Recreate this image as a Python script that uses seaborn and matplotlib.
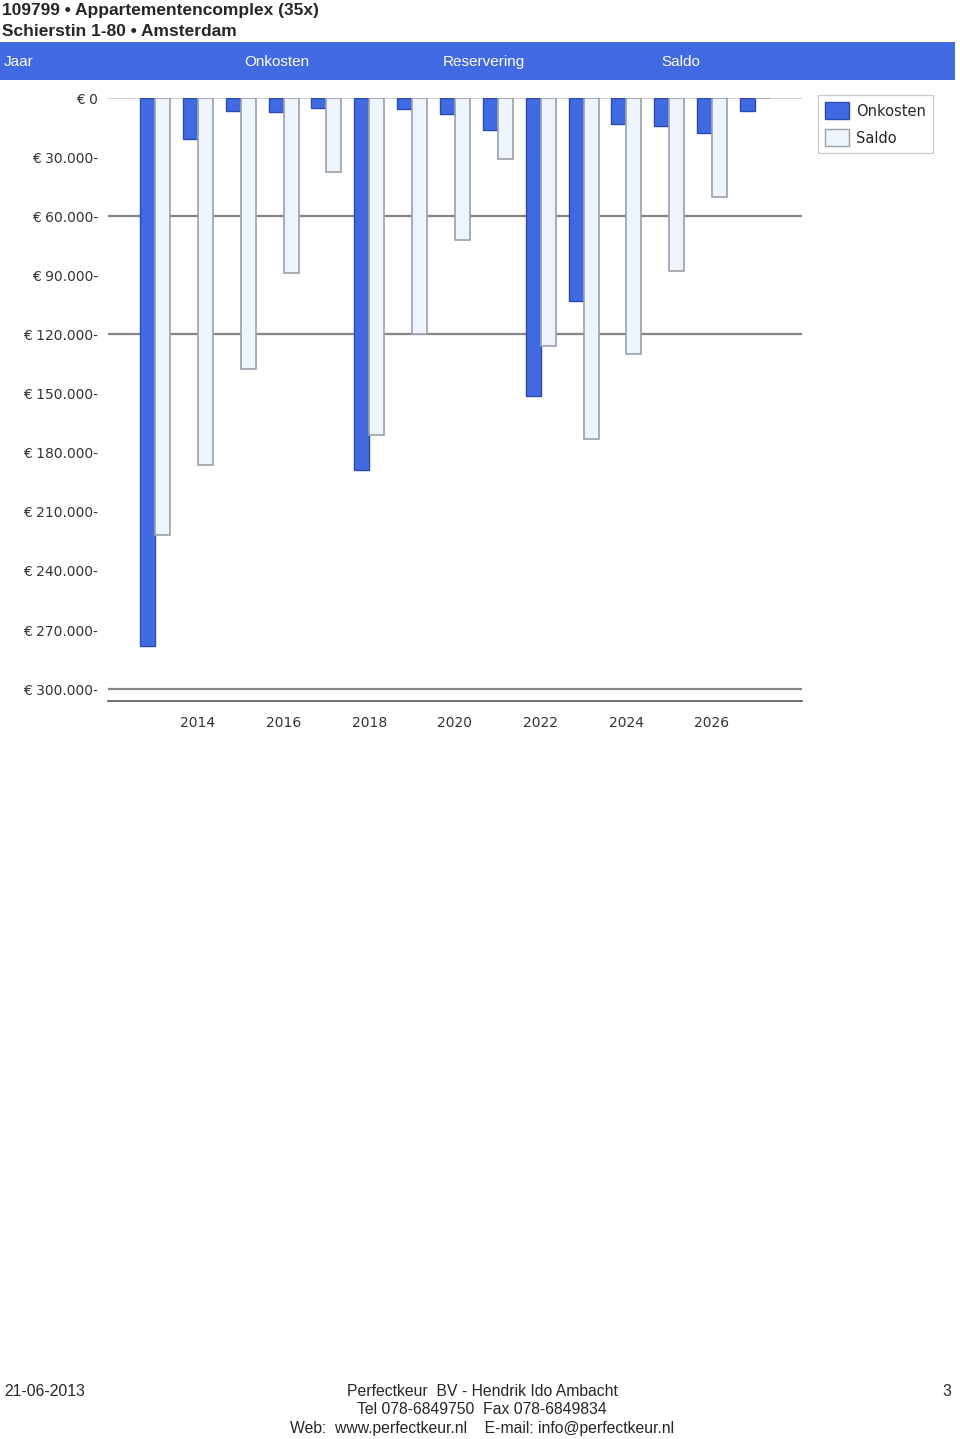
import pandas as pd
import seaborn as sns
import matplotlib.pyplot as plt
from matplotlib.patches import Patch

# data (euro, shown downwards)
years = [2013, 2014, 2015, 2016, 2017, 2018, 2019, 2020, 2021, 2022, 2023, 2024, 2025, 2026, 2027]
onkosten = [278000, 21000, 6500, 7000, 5000, 189000, 5500, 8000, 16000, 151000, 103000, 13000, 14000, 18000, 6500]
saldo = [222000, 186000, 137500, 89000, 37500, 171000, 120000, 72000, 31000, 126000, 173000, 130000, 88000, 50000, 0]
y_ticks = [0, 30000, 60000, 90000, 120000, 150000, 180000, 210000, 240000, 270000, 300000]
y_labels = ['€ 0', '€ 30.000-', '€ 60.000-', '€ 90.000-', '€ 120.000-', '€ 150.000-',
            '€ 180.000-', '€ 210.000-', '€ 240.000-', '€ 270.000-', '€ 300.000-']
x_labels = [2014, 2016, 2018, 2020, 2022, 2024, 2026]
grid_values = [60000, 120000, 300000]
header_cols = ['Jaar', 'Onkosten', 'Reservering', 'Saldo']

blue = '#4169E1'
light = '#EEF4FC'

df = pd.DataFrame({'Jaar': years * 2,
                   'Bedrag': onkosten + saldo,
                   'Serie': ['Onkosten'] * len(years) + ['Saldo'] * len(years)})

sns.set_style('white')
plt.rcParams['font.family'] = ['DejaVu Sans']

fig = plt.figure(figsize=(9.6, 14.39), dpi=100)
ax = fig.add_axes([108 / 960, 1 - 701 / 1439, 694 / 960, 603 / 1439])

sns.barplot(data=df, x='Jaar', y='Bedrag', hue='Serie', order=years,
            palette={'Onkosten': blue, 'Saldo': light}, width=0.7, saturation=1,
            legend=False, ax=ax, zorder=3)

# bar outlines
for bar in ax.containers[0]:
    bar.set_edgecolor('#2B4BAE')
    bar.set_linewidth(1.0)
for bar in ax.containers[1]:
    bar.set_edgecolor('#9BA1A8')
    bar.set_linewidth(1.2)

ax.set_ylim(306000, 0)
ax.set_xlim(-1.1, len(years) - 1 + 1.1)

# gridlines
ax.axhline(0, color='#c8c8c8', lw=1.2, zorder=1)
for g in grid_values:
    ax.axhline(g, color='#858585', lw=1.6, zorder=1)

ax.set_yticks(y_ticks)
ax.set_yticklabels(y_labels, fontsize=10, color='#333333')
ax.set_xticks([years.index(y) for y in x_labels])
ax.set_xticklabels([str(y) for y in x_labels], fontsize=10, color='#333333')
ax.tick_params(axis='y', length=0, pad=7)
ax.tick_params(axis='x', length=3, color='#bbbbbb', pad=8)
ax.set_xlabel('')
ax.set_ylabel('')
for side in ['top', 'left', 'right']:
    ax.spines[side].set_visible(False)
ax.spines['bottom'].set_color('#555555')
ax.spines['bottom'].set_linewidth(1.2)

# legend
handles = [Patch(facecolor=blue, edgecolor='#2B4BAE', label='Onkosten'),
           Patch(facecolor=light, edgecolor='#9BA1A8', label='Saldo')]
leg = fig.legend(handles=handles, loc='upper left', bbox_to_anchor=(818 / 960, 1 - 95 / 1439),
                 frameon=True, fancybox=False, prop={'size': 10.5}, handlelength=1.6,
                 handleheight=1.4, handletextpad=0.5, borderpad=0.5, labelspacing=0.7,
                 borderaxespad=0)
leg.get_frame().set_edgecolor('#c0c0c0')
leg.get_frame().set_linewidth(1.0)

# header
fig.text(2 / 960, 1 - 10 / 1439, '109799 • Appartementencomplex (35x)', fontsize=12.5,
         fontweight='bold', family='Liberation Sans', va='center', ha='left')
fig.text(2 / 960, 1 - 31 / 1439, 'Schierstin 1-80 • Amsterdam', fontsize=12.5,
         fontweight='bold', family='Liberation Sans', va='center', ha='left')
fig.patches.append(plt.Rectangle((0, 1 - 80 / 1439), 955 / 960, 38 / 1439,
                                 transform=fig.transFigure, facecolor=blue,
                                 edgecolor='none', zorder=0))
for label, xpix in zip(header_cols, [4, 244, 443, 661]):
    fig.text(xpix / 960, 1 - 62 / 1439, label, fontsize=11, color='white',
             family='Liberation Sans', va='center', ha='left')

# footer
fig.text(4 / 960, 1 - 1391 / 1439, '21-06-2013', fontsize=11.3, family='Liberation Sans',
         va='center', ha='left')
fig.text(951 / 960, 1 - 1391 / 1439, '3', fontsize=11.3, family='Liberation Sans',
         va='center', ha='right')
footer_lines = ['Perfectkeur  BV - Hendrik Ido Ambacht',
                'Tel 078-6849750  Fax 078-6849834',
                'Web:  www.perfectkeur.nl    E-mail: info@perfectkeur.nl']
for line, ypix in zip(footer_lines, [1391, 1410, 1428]):
    fig.text(482 / 960, 1 - ypix / 1439, line, fontsize=11.3, family='Liberation Sans',
             va='center', ha='center')

fig.savefig('out.png', dpi=100)
